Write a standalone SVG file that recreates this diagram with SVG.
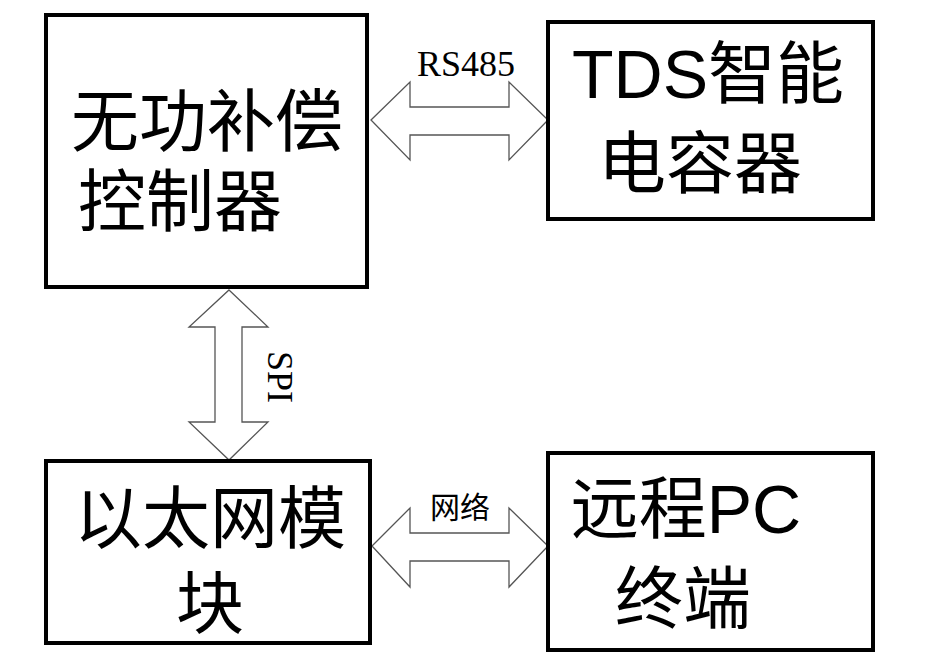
<svg xmlns="http://www.w3.org/2000/svg" width="926" height="661" viewBox="0 0 926 661">
<style>
.box{fill:#fff;stroke:#000;stroke-width:4}
.arr{fill:#fff;stroke:#555;stroke-width:1.3}
.big{font-family:"Liberation Sans","Noto Sans CJK SC",sans-serif;font-size:68px;fill:#000;text-anchor:middle}
.lbl{font-family:"Liberation Serif","Noto Sans CJK SC",serif;font-size:36px;fill:#000;text-anchor:middle}
</style>
<rect width="926" height="661" fill="#fff"/>
<g id="connectors">
<polygon class="arr" points="371,120 410,82 410,107 509,107 509,82 548,120 509,160 509,135 410,135 410,160"/>
<polygon class="arr" points="229,290 268,327 242,327 242,422 268,422 229,460 189,422 215,422 215,327 189,327"/>
<polygon class="arr" points="372,546 410,508 410,533 509,533 509,508 548,546 509,587 509,561 410,561 410,587"/>
<text class="lbl" x="466" y="76">RS485</text>
<text class="lbl" transform="translate(268,377) rotate(90)" y="0">SPI</text>
<text class="lbl" x="460" y="518" style="font-family:'Noto Sans CJK SC',sans-serif;font-size:30px">网络</text>
</g>
<g id="n1"><rect class="box" x="46" y="15" width="321" height="272"/>
<text class="big" x="207" y="146">无功补偿</text><text class="big" x="180" y="226">控制器</text></g>
<g id="n2"><rect class="box" x="548" y="22" width="325" height="197"/>
<text class="big" x="708" y="98">TDS智能</text><text class="big" x="700" y="188">电容器</text></g>
<g id="n3"><rect class="box" x="46" y="461" width="324" height="182"/>
<text class="big" x="210" y="543">以太网模</text><text class="big" x="210" y="628">块</text></g>
<g id="n4"><rect class="box" x="548" y="453" width="325" height="197"/>
<text class="big" x="686" y="533">远程PC</text><text class="big" x="683" y="623">终端</text></g>
</svg>
